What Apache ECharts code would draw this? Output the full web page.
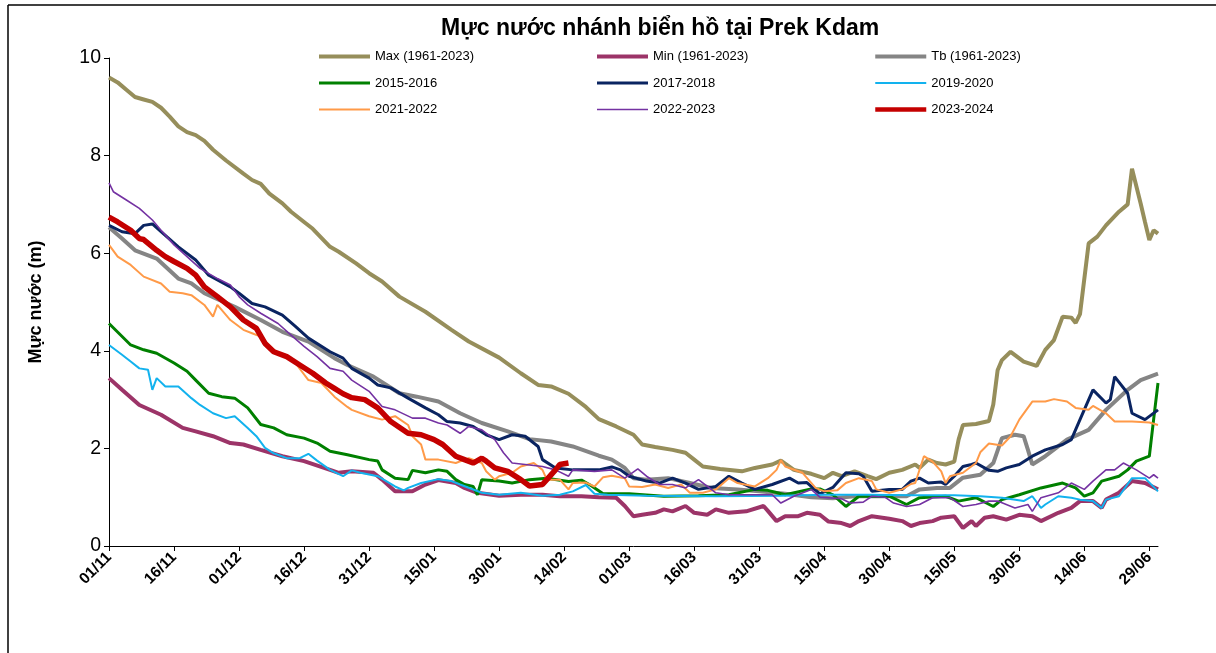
<!DOCTYPE html>
<html>
<head>
<meta charset="utf-8">
<script src="https://cdn.jsdelivr.net/npm/echarts@6/dist/echarts.min.js"></script>
<style>
html, body { margin: 0; padding: 0; background: #fff; }
#chart { width: 1216px; height: 653px; }
</style>
</head>
<body>
<div id="chart"></div>
<script>
// x = so ngay tinh tu 01/11, y = muc nuoc (m)
var tickLabels = ['01/11', '16/11', '01/12', '16/12', '31/12', '15/01', '30/01', '14/02', '01/03',
	'16/03', '31/03', '15/04', '30/04', '15/05', '30/05', '14/06', '29/06'];
var tickDays = [];
for (var i = 0; i < tickLabels.length; i++) {
	tickDays.push(i * 15);
}

var seriesNames = ['Max (1961-2023)', 'Min (1961-2023)', 'Tb (1961-2023)', '2015-2016', '2017-2018',
	'2019-2020', '2021-2022', '2022-2023', '2023-2024'];

var maxData = [[0,9.6],[2,9.5],[4,9.35],[6,9.2],[8,9.15],[10,9.1],[12,8.98],[14,8.8],[16,8.6],[18,8.48],
	[20,8.42],[22,8.3],[24,8.12],[27,7.9],[31,7.63],[33,7.5],[35,7.42],[37,7.22],[40,7.02],[42,6.85],
	[45,6.64],[47,6.5],[51,6.13],[53,6.03],[57,5.79],[60,5.59],[63,5.42],[67,5.11],[73,4.8],[79,4.43],
	[83,4.19],[90,3.86],[95,3.54],[99,3.3],[102,3.27],[106,3.12],[110,2.85],[113,2.6],[117,2.45],[121,2.28],
	[123,2.08],[126,2.03],[130,1.97],[133,1.91],[135,1.77],[137,1.63],[141,1.58],[146,1.53],[149,1.6],[153,1.67],
	[155,1.75],[158,1.56],[162,1.48],[165,1.39],[167,1.5],[169,1.43],[172,1.53],[175,1.43],[177,1.37],[180,1.5],
	[183,1.56],[186,1.67],[187,1.6],[189,1.77],[191,1.7],[193,1.67],[195,1.73],[196,2.18],[197,2.48],[200,2.5],
	[203,2.56],[204,2.9],[205,3.6],[206,3.81],[208,3.98],[211,3.78],[214,3.69],[216,4.02],[218,4.22],[220,4.7],
	[222,4.68],[223,4.57],[224,4.75],[226,6.2],[228,6.34],[230,6.57],[233,6.85],[235,7.0],[236,7.73],[238,7.02],
	[239,6.64],[240,6.27],[241,6.47],[242,6.4]];

var minData = [[0,3.44],[3,3.2],[7,2.89],[12,2.69],[17,2.42],[20,2.35],[24,2.25],[28,2.11],[31,2.08],[35,1.97],
	[40,1.84],[45,1.74],[51,1.56],[53,1.5],[56,1.53],[61,1.5],[63,1.36],[66,1.12],[70,1.12],[73,1.26],
	[76,1.35],[80,1.29],[82,1.19],[85,1.09],[90,1.03],[95,1.05],[100,1.05],[104,1.02],[109,1.02],[113,1.0],
	[117,0.99],[119,0.82],[121,0.61],[123,0.64],[126,0.68],[128,0.75],[130,0.71],[133,0.82],[135,0.68],[138,0.64],
	[140,0.75],[143,0.68],[147,0.71],[151,0.82],[152,0.72],[154,0.51],[156,0.61],[159,0.61],[161,0.68],[164,0.64],
	[166,0.5],[169,0.47],[171,0.41],[173,0.51],[176,0.61],[180,0.56],[183,0.51],[185,0.41],[187,0.47],[190,0.51],
	[192,0.58],[195,0.61],[197,0.37],[199,0.51],[200,0.41],[202,0.58],[204,0.61],[207,0.54],[210,0.64],[213,0.61],
	[215,0.51],[219,0.68],[222,0.78],[224,0.92],[227,0.92],[229,0.78],[230,0.95],[233,1.09],[236,1.33],[239,1.29],
	[242,1.16]];

var tbData = [[0,6.53],[3,6.3],[6,6.06],[11,5.89],[16,5.48],[19,5.38],[22,5.18],[29,4.9],[35,4.63],[40,4.39],
	[46,4.19],[52,3.85],[55,3.71],[61,3.47],[67,3.13],[71,3.06],[76,2.96],[81,2.72],[86,2.52],[92,2.35],
	[97,2.19],[102,2.14],[107,2.04],[113,1.85],[116,1.77],[119,1.6],[121,1.39],[124,1.36],[129,1.39],[134,1.29],
	[139,1.19],[145,1.16],[150,1.12],[156,1.07],[162,1.0],[167,0.98],[172,1.02],[180,1.02],[184,1.02],[187,1.16],
	[191,1.19],[194,1.19],[197,1.4],[201,1.46],[204,1.7],[206,2.21],[209,2.28],[211,2.25],[212,1.97],[213,1.67],
	[216,1.84],[221,2.18],[226,2.38],[230,2.79],[235,3.2],[238,3.4],[242,3.53]];

var y2015Data = [[0,4.56],[5,4.12],[8,4.02],[11,3.95],[15,3.75],[18,3.58],[20,3.4],[23,3.13],[26,3.06],[29,3.03],
	[32,2.83],[35,2.49],[38,2.42],[41,2.28],[45,2.21],[48,2.11],[51,1.94],[55,1.87],[60,1.77],[62,1.74],
	[63,1.56],[66,1.39],[69,1.36],[70,1.55],[73,1.5],[76,1.56],[78,1.53],[80,1.36],[82,1.26],[84,1.22],
	[85,1.05],[86,1.36],[90,1.33],[93,1.29],[97,1.36],[101,1.39],[106,1.32],[109,1.35],[111,1.25],[114,1.07],
	[120,1.07],[128,1.02],[136,1.03],[143,1.05],[149,1.16],[152,1.14],[156,1.05],[162,1.17],[164,1.17],[167,1.05],
	[170,0.81],[173,1.02],[180,1.02],[184,0.85],[187,0.99],[193,1.02],[196,0.92],[200,0.99],[204,0.81],[206,0.95],
	[210,1.05],[215,1.19],[220,1.29],[223,1.19],[225,1.02],[227,1.09],[229,1.33],[233,1.43],[235,1.56],[237,1.74],
	[240,1.84],[241,2.6],[242,3.34]];

var y2017Data = [[0,6.57],[3,6.44],[6,6.4],[8,6.57],[10,6.6],[12,6.44],[16,6.13],[20,5.86],[23,5.55],[28,5.31],
	[30,5.18],[33,4.97],[36,4.9],[40,4.73],[43,4.5],[46,4.26],[51,3.98],[54,3.85],[56,3.64],[60,3.44],
	[62,3.3],[65,3.24],[69,3.03],[73,2.83],[76,2.69],[78,2.55],[81,2.52],[84,2.45],[87,2.28],[90,2.18],
	[93,2.28],[96,2.25],[99,2.04],[100,1.77],[103,1.6],[107,1.56],[113,1.56],[116,1.62],[118,1.56],[120,1.43],
	[124,1.33],[127,1.29],[130,1.39],[133,1.29],[136,1.16],[140,1.22],[143,1.43],[146,1.29],[149,1.16],[153,1.26],
	[157,1.39],[159,1.29],[161,1.3],[164,1.07],[167,1.2],[170,1.5],[173,1.48],[174,1.43],[176,1.12],[180,1.16],
	[183,1.16],[185,1.33],[187,1.39],[189,1.29],[192,1.31],[193,1.26],[195,1.43],[197,1.63],[199,1.67],[200,1.7],
	[203,1.55],[205,1.53],[207,1.6],[210,1.67],[213,1.84],[216,1.97],[220,2.08],[222,2.18],[224,2.59],[227,3.2],
	[230,2.93],[231,3.0],[232,3.47],[235,3.13],[236,2.72],[239,2.59],[242,2.79]];

var y2019Data = [[0,4.12],[3,3.92],[5,3.78],[7,3.64],[9,3.61],[10,3.2],[11,3.44],[13,3.27],[16,3.27],[19,3.03],
	[21,2.89],[24,2.72],[27,2.62],[29,2.66],[32,2.42],[34,2.25],[36,2.01],[38,1.9],[41,1.8],[44,1.8],
	[46,1.89],[48,1.75],[51,1.56],[54,1.43],[56,1.55],[58,1.5],[62,1.43],[66,1.22],[68,1.14],[69,1.19],
	[72,1.29],[76,1.37],[79,1.33],[81,1.26],[86,1.09],[90,1.05],[95,1.09],[100,1.03],[104,1.05],[107,1.12],
	[110,1.25],[112,1.07],[115,1.05],[124,1.03],[140,1.02],[155,1.03],[165,1.05],[175,1.05],[185,1.04],[195,1.04],
	[201,1.02],[206,0.99],[211,0.92],[213,1.02],[215,0.78],[216,0.85],[219,1.02],[222,0.99],[224,0.95],[227,0.92],
	[229,0.78],[230,0.95],[233,1.02],[236,1.39],[239,1.39],[242,1.12]];

var y2021Data = [[0,6.17],[2,5.93],[5,5.76],[8,5.52],[12,5.38],[14,5.21],[17,5.18],[19,5.14],[22,4.94],[24,4.7],
	[25,4.94],[28,4.63],[31,4.43],[33,4.36],[35,4.29],[38,4.02],[43,3.75],[46,3.4],[49,3.34],[52,3.06],
	[55,2.85],[56,2.79],[60,2.66],[63,2.59],[66,2.66],[69,2.48],[70,2.25],[72,2.08],[73,1.77],[76,1.77],
	[80,1.7],[83,1.8],[86,1.7],[87,1.53],[89,1.36],[90,1.43],[93,1.5],[95,1.63],[98,1.7],[100,1.56],
	[101,1.36],[104,1.36],[106,1.16],[107,1.29],[110,1.3],[112,1.22],[114,1.41],[116,1.44],[119,1.39],[120,1.22],
	[123,1.21],[126,1.26],[129,1.19],[132,1.26],[134,1.09],[137,1.09],[140,1.16],[143,1.39],[145,1.29],[149,1.22],
	[152,1.39],[154,1.56],[155,1.76],[156,1.63],[160,1.5],[163,1.19],[165,1.12],[168,1.14],[170,1.29],[173,1.39],
	[176,1.33],[177,1.16],[180,1.09],[183,1.16],[185,1.27],[186,1.29],[188,1.84],[190,1.73],[192,1.53],[193,1.29],
	[194,1.43],[197,1.5],[200,1.7],[201,1.92],[203,2.1],[206,2.06],[208,2.25],[210,2.59],[213,2.96],[216,2.96],
	[218,3.01],[221,2.96],[223,2.83],[226,2.79],[227,2.87],[230,2.72],[232,2.55],[236,2.55],[240,2.53],[242,2.48]];

var y2022Data = [[0,7.44],[1,7.26],[4,7.09],[7,6.92],[10,6.68],[12,6.47],[15,6.17],[18,5.93],[21,5.69],[25,5.48],
	[28,5.35],[30,5.11],[32,4.94],[35,4.77],[39,4.56],[42,4.32],[45,4.09],[48,3.88],[51,3.64],[54,3.58],
	[56,3.4],[60,3.17],[63,2.86],[66,2.79],[70,2.62],[73,2.62],[76,2.52],[78,2.48],[81,2.31],[83,2.45],
	[86,2.38],[89,2.18],[91,1.91],[93,1.7],[96,1.67],[100,1.63],[103,1.56],[106,1.43],[107,1.56],[112,1.53],
	[116,1.56],[119,1.39],[122,1.58],[124,1.43],[127,1.26],[130,1.26],[133,1.19],[136,1.36],[140,1.09],[143,1.05],
	[149,1.05],[153,1.05],[155,0.88],[158,1.02],[162,1.16],[164,1.0],[169,0.97],[171,0.88],[174,0.9],[176,1.02],
	[179,1.0],[181,0.88],[184,0.81],[187,0.85],[190,0.99],[194,0.99],[197,0.81],[200,0.85],[203,0.92],[205,0.92],
	[209,0.78],[212,0.85],[213,0.71],[215,0.99],[219,1.09],[222,1.29],[225,1.16],[227,1.33],[230,1.56],[232,1.56],
	[234,1.7],[237,1.56],[240,1.39],[241,1.46],[242,1.39]];

var y2023Data = [[0,6.74],[2,6.64],[5,6.47],[7,6.3],[8,6.28],[11,6.06],[13,5.93],[15,5.83],[18,5.69],[20,5.55],
	[22,5.31],[25,5.11],[28,4.9],[31,4.63],[34,4.46],[36,4.15],[38,3.98],[41,3.88],[44,3.71],[47,3.54],
	[50,3.34],[52,3.23],[54,3.12],[56,3.04],[59,3.0],[62,2.83],[65,2.55],[69,2.31],[72,2.28],[75,2.18],
	[77,2.08],[80,1.84],[82,1.77],[84,1.7],[86,1.8],[87,1.74],[89,1.6],[92,1.53],[95,1.36],[97,1.23],
	[100,1.26],[101,1.36],[103,1.56],[104,1.67],[106,1.7]];

var seriesData = [maxData, minData, tbData, y2015Data, y2017Data, y2019Data, y2021Data, y2022Data, y2023Data];
var seriesColors = ['#968E5B', '#9C3468', '#858585', '#008000', '#0A2461', '#12B2EE', '#FF9A48', '#7432A2', '#C40000'];
var seriesWidths = [4, 4, 4, 3, 3, 2, 2, 1.6, 5.5];

var font = 'Liberation Sans, Arial, sans-serif';

var series = [];
for (var i = 0; i < seriesNames.length; i++) {
	series.push({
		name: seriesNames[i],
		type: 'line',
		data: seriesData[i],
		symbol: 'none',
		animation: false,
		lineStyle: { color: seriesColors[i], width: seriesWidths[i] },
		itemStyle: { color: seriesColors[i] }
	});
}

// 3 cot chu giai, moi cot 3 dong
function makeLegend(left, idx) {
	var items = [];
	for (var j = 0; j < idx.length; j++) {
		var k = idx[j];
		items.push({
			name: seriesNames[k],
			lineStyle: { color: seriesColors[k], width: Math.min(seriesWidths[k], 4.5) }
		});
	}
	return {
		orient: 'vertical',
		left: left,
		top: 50,
		padding: 0,
		itemWidth: 51,
		itemHeight: 14,
		itemGap: 13.5,
		selectedMode: false,
		itemStyle: { opacity: 0 },
		textStyle: { fontFamily: font, fontSize: 13, color: '#000' },
		data: items
	};
}

var chart = echarts.init(document.getElementById('chart'));
var option = {
	backgroundColor: '#fff',
	title: {
		text: 'Mực nước nhánh biển hồ tại Prek Kdam',
		left: 441,
		top: 17,
		padding: 0,
		textStyle: { fontFamily: font, fontSize: 23, fontWeight: 'bold', color: '#000' }
	},
	legend: [
		makeLegend(317, [0, 3, 6]),
		makeLegend(595, [1, 4, 7]),
		makeLegend(873, [2, 5, 8])
	],
	grid: { left: 109, right: 58, top: 58, bottom: 107, containLabel: false },
	xAxis: {
		type: 'value',
		min: 0,
		max: 242,
		interval: 15,
		axisLine: { lineStyle: { color: '#000', width: 1 } },
		axisTick: { length: 5, customValues: tickDays, lineStyle: { color: '#000' } },
		axisLabel: {
			customValues: tickDays,
			rotate: 45,
			margin: 9,
			fontFamily: font,
			fontSize: 15.5,
			fontWeight: 'bold',
			color: '#000',
			formatter: function (v) {
				var k = Math.round(v / 15);
				return (v % 15 === 0 && tickLabels[k]) ? tickLabels[k] : '';
			}
		},
		splitLine: { show: false }
	},
	yAxis: {
		type: 'value',
		min: 0,
		max: 10,
		interval: 2,
		name: 'Mực nước (m)',
		nameLocation: 'middle',
		nameGap: 64,
		nameTextStyle: { fontFamily: font, fontSize: 18, fontWeight: 'bold', color: '#000' },
		axisLine: { show: true, lineStyle: { color: '#000', width: 1 } },
		axisTick: { show: true, length: 5, lineStyle: { color: '#000' } },
		axisLabel: { fontFamily: font, fontSize: 19.5, color: '#000', margin: 8 },
		splitLine: { show: false }
	},
	graphic: [
		{ type: 'line', shape: { x1: 8, y1: 5, x2: 1216, y2: 5 }, style: { stroke: '#000', lineWidth: 1.5 } },
		{ type: 'line', shape: { x1: 8, y1: 5, x2: 8, y2: 653 }, style: { stroke: '#000', lineWidth: 1.5 } }
	],
	series: series
};
chart.setOption(option);
window.onresize = chart.resize;
</script>
</body>
</html>
